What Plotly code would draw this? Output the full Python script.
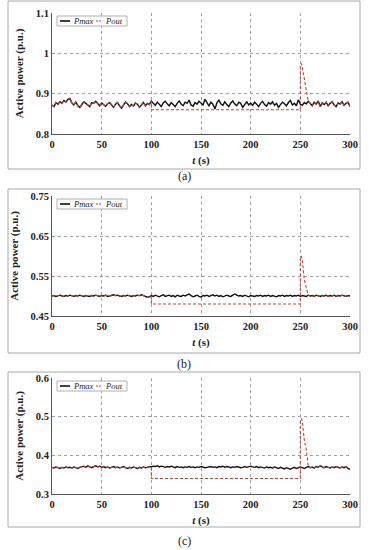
import plotly.graph_objects as go

# ---------------- data ----------------
t = list(range(0, 301, 2))

pmax_a = [0.872, 0.868, 0.878, 0.874, 0.880, 0.876, 0.883, 0.879, 0.886, 0.888,
          0.877, 0.872, 0.879, 0.870, 0.866, 0.874, 0.880, 0.876, 0.871, 0.868,
          0.878, 0.876, 0.881, 0.874, 0.870, 0.877, 0.873, 0.869, 0.875, 0.878,
          0.872, 0.866, 0.874, 0.878, 0.870, 0.864, 0.872, 0.879, 0.875, 0.868,
          0.873, 0.869, 0.877, 0.874, 0.866, 0.872, 0.878, 0.870, 0.876, 0.873,
          0.882, 0.876, 0.871, 0.879, 0.874, 0.868, 0.877, 0.881, 0.875, 0.870,
          0.878, 0.873, 0.868, 0.876, 0.882, 0.874, 0.870, 0.879, 0.876, 0.884,
          0.872, 0.869, 0.878, 0.874, 0.881, 0.877, 0.872, 0.886, 0.876, 0.870,
          0.879, 0.874, 0.862, 0.877, 0.884, 0.875, 0.871, 0.880, 0.873, 0.868,
          0.877, 0.882, 0.874, 0.870, 0.879, 0.876, 0.866, 0.874, 0.880, 0.872,
          0.877, 0.871, 0.879, 0.874, 0.868, 0.876, 0.881, 0.873, 0.869, 0.878,
          0.874, 0.880, 0.871, 0.876, 0.866, 0.873, 0.879, 0.875, 0.870, 0.878,
          0.883, 0.872, 0.876, 0.870, 0.885, 0.874, 0.871, 0.878, 0.875, 0.881,
          0.876, 0.870, 0.879, 0.874, 0.882, 0.868, 0.877, 0.873, 0.879, 0.870,
          0.876, 0.880, 0.872, 0.868, 0.877, 0.874, 0.880, 0.871, 0.876, 0.879,
          0.868]

pmax_b = [0.500, 0.501, 0.499, 0.500, 0.502, 0.500, 0.499, 0.501, 0.500, 0.502,
          0.500, 0.499, 0.501, 0.500, 0.502, 0.500, 0.499, 0.501, 0.500, 0.499,
          0.501, 0.500, 0.502, 0.500, 0.499, 0.501, 0.500, 0.502, 0.499, 0.500,
          0.501, 0.503, 0.501, 0.502, 0.500, 0.499, 0.501, 0.500, 0.502, 0.500,
          0.499, 0.501, 0.500, 0.502, 0.501, 0.503, 0.500, 0.499, 0.497, 0.498,
          0.501, 0.499, 0.502, 0.500, 0.498, 0.501, 0.503, 0.499, 0.500, 0.502,
          0.499, 0.501, 0.498, 0.502, 0.500, 0.499, 0.502, 0.500, 0.503, 0.505,
          0.501, 0.498, 0.500, 0.502, 0.499, 0.497, 0.501, 0.500, 0.502, 0.499,
          0.501, 0.503, 0.500, 0.502, 0.499, 0.501, 0.498, 0.500, 0.502, 0.500,
          0.499, 0.502, 0.505, 0.502, 0.500, 0.501, 0.499, 0.502, 0.500, 0.498,
          0.501, 0.500, 0.499, 0.501, 0.500, 0.502, 0.499, 0.501, 0.500, 0.502,
          0.499, 0.501, 0.500, 0.498, 0.501, 0.500, 0.502, 0.499, 0.501, 0.500,
          0.502, 0.499, 0.501, 0.500, 0.502, 0.499, 0.501, 0.500, 0.499, 0.502,
          0.500, 0.501, 0.499, 0.502, 0.500, 0.499, 0.501, 0.500, 0.502, 0.499,
          0.501, 0.500, 0.502, 0.499, 0.501, 0.500, 0.502, 0.500, 0.499, 0.501,
          0.500]

pmax_c = [0.369, 0.367, 0.370, 0.368, 0.366, 0.369, 0.367, 0.370, 0.368, 0.369,
          0.367, 0.370, 0.368, 0.366, 0.369, 0.371, 0.372, 0.369, 0.373, 0.370,
          0.368, 0.371, 0.373, 0.370, 0.372, 0.369, 0.371, 0.368, 0.370, 0.367,
          0.369, 0.371, 0.368, 0.370, 0.367, 0.369, 0.371, 0.368, 0.366, 0.369,
          0.367, 0.370, 0.368, 0.366, 0.369, 0.367, 0.370, 0.368, 0.369, 0.371,
          0.370, 0.372, 0.371, 0.373, 0.370, 0.372, 0.371, 0.369, 0.371, 0.370,
          0.372, 0.370, 0.368, 0.371, 0.369, 0.370, 0.368, 0.370, 0.369, 0.371,
          0.369, 0.370, 0.368, 0.370, 0.369, 0.371, 0.370, 0.368, 0.369, 0.370,
          0.371, 0.369, 0.370, 0.368, 0.371, 0.370, 0.372, 0.369, 0.371, 0.370,
          0.368, 0.370, 0.369, 0.371, 0.370, 0.368, 0.369, 0.371, 0.369, 0.370,
          0.372, 0.370, 0.369, 0.371, 0.368, 0.370, 0.369, 0.367, 0.370, 0.368,
          0.369, 0.367, 0.370, 0.368, 0.366, 0.369, 0.367, 0.365, 0.368, 0.366,
          0.364, 0.367, 0.369, 0.366, 0.368, 0.370, 0.368, 0.366, 0.369, 0.371,
          0.368, 0.370, 0.367, 0.371, 0.369, 0.373, 0.370, 0.368, 0.371, 0.369,
          0.367, 0.370, 0.368, 0.371, 0.369, 0.367, 0.370, 0.368, 0.371, 0.366,
          0.364]

# Pout: follows Pmax until t=100, curtailed 100-250, spike at 250, back to Pmax after ~258
seg_t = [100, 250, 250, 251, 252, 254, 256, 258]
seg_a = [0.860, 0.860, 0.968, 0.975, 0.966, 0.935, 0.905, 0.880]
seg_b = [0.480, 0.480, 0.595, 0.600, 0.590, 0.540, 0.520, 0.502]
seg_c = [0.340, 0.340, 0.490, 0.495, 0.488, 0.440, 0.415, 0.372]

yticks_a = [0.8, 0.9, 1.0, 1.1]
ytext_a = ["0.8", "0.9", "1", "1.1"]
yticks_b = [0.45, 0.55, 0.65, 0.75]
ytext_b = ["0.45", "0.55", "0.65", "0.75"]
yticks_c = [0.3, 0.4, 0.5, 0.6]
ytext_c = ["0.3", "0.4", "0.5", "0.6"]
xticks = [0, 50, 100, 150, 200, 250, 300]
panel_labels = ["(a)", "(b)", "(c)"]

# ---------------- layout helpers ----------------
W, H = 369, 550
def px(x):
    return x / W
def py(y):
    return 1 - y / H

plots = [(13, 134), (196, 316), (378, 494)]
boxes = [(1, 169), (189, 353), (372, 527)]
label_y = [176, 364, 541]
XL, XR = 52, 350

panels = [
    (pmax_a, seg_a, yticks_a, ytext_a),
    (pmax_b, seg_b, yticks_b, ytext_b),
    (pmax_c, seg_c, yticks_c, ytext_c),
]

BLACK = "#111111"
RED = "#b8473a"
GRID = "#a0a0a0"
SERIF = "Liberation Serif"

fig = go.Figure()
shapes = []
annotations = []

for i, (pm, seg, yt, ytx) in enumerate(panels):
    n = "" if i == 0 else str(i + 1)
    xa = "x" + n
    ya = "y" + n
    pout_t = t[:51] + seg_t + t[130:]
    pout_v = pm[:51] + seg + pm[130:]
    fig.add_trace(go.Scatter(x=t, y=pm, mode="lines", name="Pmax",
                             line=dict(color=BLACK, width=1.4),
                             xaxis=xa, yaxis=ya, showlegend=False))
    fig.add_trace(go.Scatter(x=pout_t, y=pout_v, mode="lines", name="Pout",
                             line=dict(color=RED, width=1.1, dash="3px,2px"),
                             xaxis=xa, yaxis=ya, showlegend=False))
    top, bot = plots[i]
    fig.layout["xaxis" + n] = dict(
        domain=[px(XL), px(XR)], anchor=ya, range=[0, 300], automargin=False,
        tickvals=xticks, ticktext=[str(v) for v in xticks],
        tickfont=dict(family=SERIF, size=10.5, color="#222", weight="bold"),
        showgrid=True, gridcolor=GRID, griddash="3px,3px", gridwidth=1,
        showline=True, linecolor="#555", linewidth=1, zeroline=False,
        ticks="", ticklen=0,
        title=dict(text="<i>t</i> (s)", standoff=7,
                   font=dict(family=SERIF, size=11, color="#222", weight="bold")),
    )
    fig.layout["yaxis" + n] = dict(
        domain=[py(bot), py(top)], anchor=xa, range=[yt[0], yt[-1]], automargin=False,
        tickvals=yt, ticktext=ytx,
        tickfont=dict(family=SERIF, size=10.5, color="#222", weight="bold"),
        showgrid=True, gridcolor=GRID, griddash="3px,3px", gridwidth=1,
        showline=True, linecolor="#555", linewidth=1, zeroline=False,
        ticks="", ticklen=0,
        title=dict(text="Active power (p.u.)", standoff=9,
                   font=dict(family=SERIF, size=11, color="#222", weight="bold")),
    )
    b0, b1 = boxes[i]
    shapes.append(dict(type="rect", xref="paper", yref="paper",
                       x0=px(8), x1=px(360), y0=py(b1), y1=py(b0),
                       line=dict(color="#a8a8a8", width=1)))
    lt, lb = top + 3, top + 13
    ly = (lt + lb) / 2
    shapes.append(dict(type="rect", xref="paper", yref="paper",
                       x0=px(57), x1=px(127), y0=py(lb), y1=py(lt),
                       line=dict(color="#b0b0b0", width=1), fillcolor="white", layer="above"))
    shapes.append(dict(type="line", xref="paper", yref="paper",
                       x0=px(60), x1=px(70), y0=py(ly), y1=py(ly),
                       line=dict(color=BLACK, width=1.6), layer="above"))
    shapes.append(dict(type="line", xref="paper", yref="paper",
                       x0=px(96), x1=px(102), y0=py(ly), y1=py(ly),
                       line=dict(color=RED, width=1.1, dash="2px,1px"), layer="above"))
    annotations.append(dict(text="<i>Pmax</i>", xref="paper", yref="paper",
                            x=px(71), y=py(ly), xanchor="left", yanchor="middle",
                            showarrow=False,
                            font=dict(family=SERIF, size=8.5, color="#222")))
    annotations.append(dict(text="<i>Pout</i>", xref="paper", yref="paper",
                            x=px(103), y=py(ly), xanchor="left", yanchor="middle",
                            showarrow=False,
                            font=dict(family=SERIF, size=8.5, color="#222")))
    annotations.append(dict(text=panel_labels[i], xref="paper", yref="paper",
                            x=px(184), y=py(label_y[i]), xanchor="center", yanchor="middle",
                            showarrow=False,
                            font=dict(family=SERIF, size=12, color="#222")))

fig.update_layout(
    width=W, height=H,
    margin=dict(l=0, r=0, t=0, b=0),
    paper_bgcolor="white", plot_bgcolor="white",
    showlegend=False,
    shapes=shapes, annotations=annotations,
)

fig.write_html("out.html", config={"displayModeBar": False},
               post_script="document.body.style.margin='0';document.body.style.overflow='hidden';")
